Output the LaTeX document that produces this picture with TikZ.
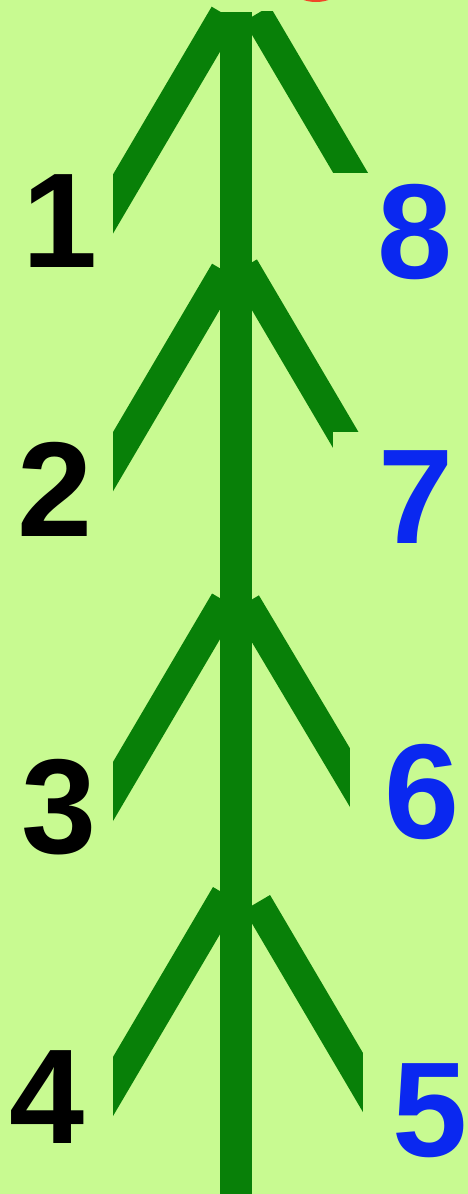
\documentclass[tikz,border=0pt]{standalone}
\usepackage{fontspec}
\setmainfont{Liberation Sans}
\definecolor{bg}{RGB}{200,250,145}
\definecolor{stemgreen}{RGB}{8,128,8}
\definecolor{numblue}{RGB}{10,40,240}
\definecolor{dotred}{RGB}{240,70,40}
\begin{document}
\begin{tikzpicture}[x=1pt,y=-1pt,
  stemline/.style={draw=stemgreen, line width=32pt, line cap=butt},
  branch/.style={draw=stemgreen, line width=30pt, line cap=butt},
  cover/.style={fill=bg},
  lab/.style={anchor=base, inner sep=0pt, font=\fontsize{135}{135}\selectfont\bfseries},
  leftlab/.style={lab, text=black},
  rightlab/.style={lab, text=numblue}]
\fill[bg] (0,0) rectangle (468,1194);
\useasboundingbox (0,0) rectangle (468,1194);
% branch end points
\coordinate (l1a) at (224.6,14.3);  \coordinate (l1b) at (95,234.6);
\coordinate (l2a) at (225,271.3);   \coordinate (l2b) at (95,492.3);
\coordinate (l3a) at (225,601.1);   \coordinate (l3b) at (95,822.1);
\coordinate (l4a) at (225.9,894.6); \coordinate (l4b) at (95,1117.1);
\coordinate (r1a) at (257,13.8);    \coordinate (r1b) at (380,222.9);
\coordinate (r2a) at (244,267);     \coordinate (r2b) at (380,498.2);
\coordinate (r3a) at (246,603);     \coordinate (r3b) at (380,828.1);
\coordinate (r4a) at (257.1,902.6); \coordinate (r4b) at (380,1111.5);
\coordinate (stemtop) at (236,12);  \coordinate (stembot) at (236,1200);
% branches
\foreach \b in {l1,l2,l3,l4,r1,r2,r3,r4}{
  \draw[branch] (\b a) -- (\b b);
}
% stem
\draw[stemline] (stemtop) -- (stembot);
% label boxes covering branch ends
\fill[cover] (0,0) rectangle (113,1194);
\fill[cover] (258,-5) rectangle (360,11);
\fill[cover] (333.3,173.3) rectangle (470,300);
\fill[cover] (333.3,431.7) rectangle (470,560);
\fill[cover] (350,700) rectangle (470,870);
\fill[cover] (363,1000) rectangle (470,1200);
% labels
\node[leftlab] (n1) at (60,267) {1};
\node[leftlab] (n2) at (55,536.7) {2};
\node[leftlab] (n3) at (59,853.5) {3};
\node[leftlab] (n4) at (47,1143) {4};
\node[rightlab] (n5) at (430,1156.5) {5};
\node[rightlab] (n6) at (422.5,838.5) {6};
\node[rightlab] (n7) at (416.5,543) {7};
\node[rightlab] (n8) at (415.5,278.5) {8};
% red shape at top edge
\fill[dotred] (316,-38) circle[radius=40pt];
\end{tikzpicture}
\end{document}
